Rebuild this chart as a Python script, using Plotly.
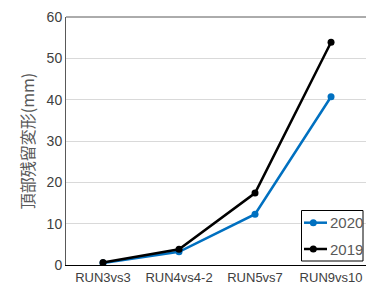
import plotly.graph_objects as go

categories = ["RUN3vs3", "RUN4vs4-2", "RUN5vs7", "RUN9vs10"]
s2020 = [0.5, 3.2, 12.3, 40.7]
s2019 = [0.6, 3.8, 17.4, 53.9]
y_ticks = [0, 10, 20, 30, 40, 50, 60]
series = [("2020", s2020, "#0070C0"), ("2019", s2019, "#000000")]

W, H = 366, 293
ML, MR, MT, MB = 66, 0, 17, 28
PW, PH = W - ML - MR, H - MT - MB


def px(x):
    return (x - ML) / PW


def py(y):
    return (H - MB - y) / PH


gray = "#595959"
fig = go.Figure()
for name, vals, col in series:
    fig.add_trace(go.Scatter(x=categories, y=vals, name=name, mode="lines+markers",
                             line=dict(color=col, width=2.5), marker=dict(size=7, color=col),
                             showlegend=False))

# manual legend (decoration)
shapes = [dict(type="line", xref="paper", yref="paper", x0=0, x1=1, y0=1, y1=1,
               line=dict(color=gray, width=1)),
          dict(type="rect", xref="paper", yref="paper", x0=px(301.5), x1=px(363),
               y0=py(261), y1=py(210.5), line=dict(color="#000000", width=1),
               fillcolor="white", layer="above")]
annotations = []
row_y = [222.7, 249]
for (name, vals, col), ry in zip(series, row_y):
    shapes.append(dict(type="line", xref="paper", yref="paper", x0=px(304), x1=px(327),
                       y0=py(ry), y1=py(ry), line=dict(color=col, width=2.5), layer="above"))
    shapes.append(dict(type="circle", xref="paper", yref="paper", x0=px(309.8), x1=px(316.8),
                       y0=py(ry + 3.5), y1=py(ry - 3.5), line=dict(color=col, width=0),
                       fillcolor=col, layer="above"))
    annotations.append(dict(text=name, xref="paper", yref="paper", x=px(327.5), y=py(ry),
                            xanchor="left", yanchor="middle", showarrow=False,
                            font=dict(size=15, color=gray)))

fig.update_layout(
    width=W, height=H,
    margin=dict(l=ML, r=MR, t=MT, b=MB),
    paper_bgcolor="white", plot_bgcolor="white",
    font=dict(family="Liberation Sans, Arial, sans-serif", size=13, color=gray),
    showlegend=False,
    xaxis=dict(range=[-0.487, 3.46], showgrid=False, showline=True, linecolor="#000000",
               linewidth=1, ticks="", tickfont=dict(size=13, color="#404040")),
    yaxis=dict(range=[0, 60], tickvals=y_ticks, showgrid=True, gridcolor="#D9D9D9",
               showline=True, linecolor=gray, linewidth=1, zeroline=False,
               tickfont=dict(size=14, color="#404040"), ticks="", ticklen=0,
               title=dict(text="頂部残留変形(mm)", standoff=8,
                          font=dict(family="Noto Sans CJK JP", size=16, color=gray))),
    shapes=shapes,
    annotations=annotations,
)
fig.write_html("out.html", config={"displayModeBar": False},
               post_script="document.body.style.margin='0';document.body.style.overflow='hidden';")
